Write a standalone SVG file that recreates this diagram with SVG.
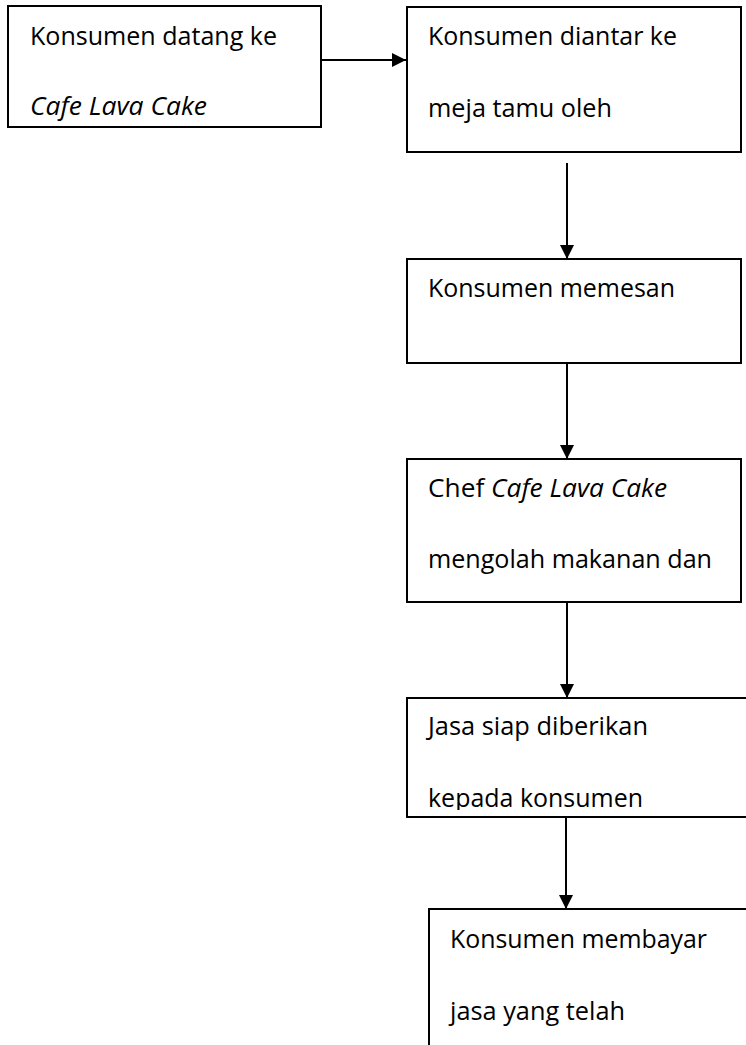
<svg xmlns="http://www.w3.org/2000/svg" width="746" height="1045" viewBox="0 0 746 1045">
<style>
.box{fill:#fff;stroke:#000;stroke-width:2}
.edge{fill:none;stroke:#000;stroke-width:2}
.t{font-family:"Open Sans","Liberation Sans",sans-serif;font-size:26px;fill:#000}
.i{font-style:italic}
</style>
<defs>
<marker id="ah" markerWidth="14" markerHeight="14" refX="14" refY="7" orient="auto" markerUnits="userSpaceOnUse">
<path d="M0,0 L14,7 L0,14 Z" fill="#000"/>
</marker>
<clipPath id="c5"><rect x="407" y="698" width="339" height="112"/></clipPath>
</defs>
<g id="connectors">
<line class="edge" x1="321" y1="60" x2="406" y2="60" marker-end="url(#ah)"/>
<line class="edge" x1="567" y1="163" x2="567" y2="259" marker-end="url(#ah)"/>
<line class="edge" x1="567" y1="363" x2="567" y2="459" marker-end="url(#ah)"/>
<line class="edge" x1="567" y1="602" x2="567" y2="698" marker-end="url(#ah)"/>
<line class="edge" x1="566" y1="817" x2="566" y2="909" marker-end="url(#ah)"/>
</g>
<g id="node1">
<rect class="box" x="8" y="6" width="313" height="121"/>
<text class="t" x="30" y="45" textLength="247" lengthAdjust="spacingAndGlyphs">Konsumen datang ke</text>
<text class="t i" x="30" y="115" textLength="177" lengthAdjust="spacingAndGlyphs">Cafe Lava Cake</text>
</g>
<g id="node2">
<rect class="box" x="407" y="7" width="334" height="145"/>
<text class="t" x="428" y="45" textLength="249" lengthAdjust="spacingAndGlyphs">Konsumen diantar ke</text>
<text class="t" x="428" y="117" textLength="184" lengthAdjust="spacingAndGlyphs">meja tamu oleh</text>
</g>
<g id="node3">
<rect class="box" x="407" y="259" width="334" height="104"/>
<text class="t" x="428" y="297" textLength="247" lengthAdjust="spacingAndGlyphs">Konsumen memesan</text>
</g>
<g id="node4">
<rect class="box" x="407" y="459" width="334" height="143"/>
<text class="t" x="428" y="497" textLength="239" lengthAdjust="spacingAndGlyphs">Chef <tspan class="i">Cafe Lava Cake</tspan></text>
<text class="t" x="428" y="568" textLength="284" lengthAdjust="spacingAndGlyphs">mengolah makanan dan</text>
</g>
<g id="node5">
<path class="edge" d="M746,698 H407 V817 H746"/>
<g clip-path="url(#c5)">
<text class="t" x="428" y="735" textLength="220" lengthAdjust="spacingAndGlyphs">Jasa siap diberikan</text>
<text class="t" x="428" y="807" textLength="215" lengthAdjust="spacingAndGlyphs">kepada konsumen</text>
</g>
</g>
<g id="node6">
<path class="edge" d="M746,909 H429 V1045"/>
<text class="t" x="450" y="948" textLength="257" lengthAdjust="spacingAndGlyphs">Konsumen membayar</text>
<text class="t" x="450" y="1020" textLength="175" lengthAdjust="spacingAndGlyphs">jasa yang telah</text>
</g>
</svg>
